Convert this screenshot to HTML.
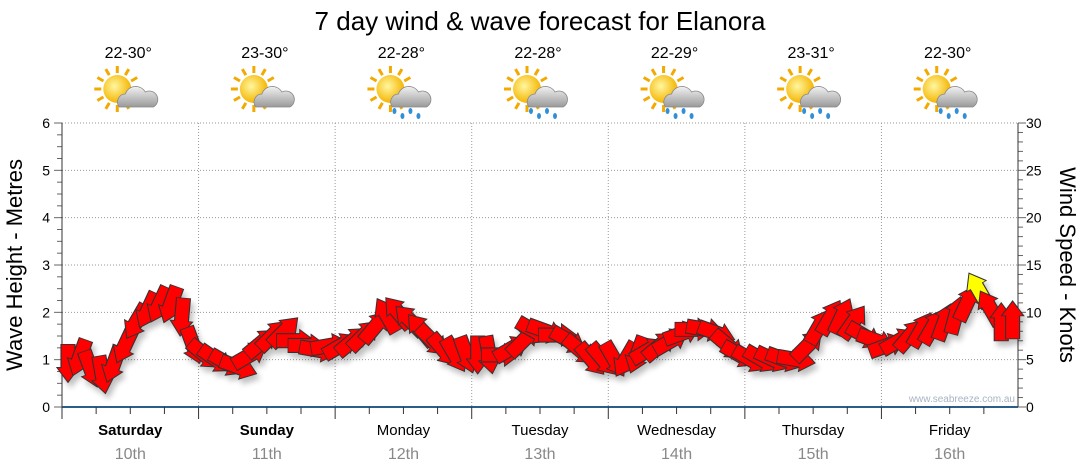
<!DOCTYPE html>
<html><head><meta charset="utf-8"><style>
body{margin:0;background:#fff;font-family:"Liberation Sans",sans-serif;}
svg{display:block}
</style></head><body>
<svg id="c" width="1080" height="475" viewBox="0 0 1080 475">
<defs>
<filter id="sh" x="-50%" y="-50%" width="200%" height="200%"><feGaussianBlur in="SourceAlpha" stdDeviation="3"/><feOffset dx="3" dy="5"/><feComponentTransfer><feFuncA type="linear" slope="0.25"/></feComponentTransfer><feMerge><feMergeNode/><feMergeNode in="SourceGraphic"/></feMerge></filter>
<radialGradient id="sun" cx="0.4" cy="0.4" r="0.6"><stop offset="0" stop-color="#fff7a0"/><stop offset="1" stop-color="#f5b400"/></radialGradient>
<linearGradient id="cl" x1="0" y1="0" x2="0" y2="1"><stop offset="0" stop-color="#f2f2f2"/><stop offset="1" stop-color="#9a9a9a"/></linearGradient>
</defs>
<text x="540" y="30" text-anchor="middle" font-size="26" fill="#000">7 day wind &amp; wave forecast for Elanora</text>
<g id="grid"></g><g id="axes"></g><g id="wx"></g>
<text x="1015" y="402" text-anchor="end" font-size="10" fill="#a8b4c4">www.seabreeze.com.au</text>
<g id="arrows" filter="url(#sh)"></g>
<text transform="translate(22,265) rotate(-90)" text-anchor="middle" font-size="22" fill="#000">Wave Height - Metres</text>
<text transform="translate(1060,265) rotate(90)" text-anchor="middle" font-size="22" fill="#000">Wind Speed - Knots</text>
</svg>
<script>
const days=["Saturday","Sunday","Monday","Tuesday","Wednesday","Thursday","Friday"];
const dates=["10th","11th","12th","13th","14th","15th","16th"];
const temps=["22-30°","23-30°","22-28°","22-28°","22-29°","23-31°","22-30°"];
const rain=[false,false,true,true,true,true,true];
const waveTicks=[0,1,2,3,4,5,6];
const windTicks=[0,5,10,15,20,25,30];
const windSpeed=[4.6,5.2,4.0,3.4,4.5,6.5,9.0,10.2,10.8,10.8,9.5,6.5,
5.5,5.0,4.6,4.2,5.5,6.8,7.6,8.0,7.0,6.5,6.0,6.5,
6.5,7.0,7.6,8.5,9.7,10.0,9.2,8.2,7.0,6.0,5.5,5.5,
5.5,5.5,5.5,6.2,7.0,8.0,8.0,7.6,7.0,6.0,5.0,5.0,
5.0,5.0,5.5,6.0,6.5,7.0,7.8,8.2,8.2,7.8,6.5,5.5,
5.0,5.0,5.0,5.0,5.0,6.5,8.5,9.5,9.6,9.0,7.5,7.0,
6.5,7.0,7.6,8.2,8.5,9.0,9.7,11.0,12.4,10.5,9.0,9.2];
const windDir=[180,200,160,170,200,205,210,205,205,200,185,160,
130,125,120,110,60,50,45,45,90,90,100,80,
60,50,45,40,330,320,315,320,135,140,150,160,
180,170,90,60,45,120,110,90,120,130,140,140,
150,210,200,60,50,60,70,90,100,110,130,120,
120,120,115,110,100,45,30,30,25,35,120,110,
70,60,40,30,30,20,15,25,330,330,0,0];
const NS="http://www.w3.org/2000/svg";
const X0=62,X1=1018,Y0=407,Y1=123,DW=(X1-X0)/7;
const yW=v=>Y0-(v/6)*(Y0-Y1);
const yK=v=>Y0-(v/30)*(Y0-Y1);
const xT=i=>X0+i*DW/12+6;
function mk(tag,attrs,parent){const e=document.createElementNS(NS,tag);for(const k in attrs)e.setAttribute(k,attrs[k]);parent.appendChild(e);return e;}
const G=document.getElementById('grid'),A=document.getElementById('axes'),W=document.getElementById('wx'),R=document.getElementById('arrows');
waveTicks.forEach(v=>{
 if(v>0){const l=mk('line',{x1:X0,x2:X1,y1:yW(v),y2:yW(v),stroke:'#999','stroke-dasharray':'1,2'},G);
 
 }
 const t=mk('text',{x:50,y:yW(v)+5,'text-anchor':'end','font-size':14,fill:'#000'},A);t.textContent=v;
 
 
});
for(let v=0;v<=6;v+=0.25){mk('line',{x1:X0-(v%1===0?8:5),x2:X0,y1:yW(v),y2:yW(v),stroke:'#666'},A);}
windTicks.forEach(v=>{
 const t=mk('text',{x:1026,y:yK(v)+5,'font-size':14,fill:'#000'},A);t.textContent=v;
 
 
});
for(let v=0;v<=30;v+=1){mk('line',{x1:X1,x2:X1+(v%5===0?8:5),y1:yK(v),y2:yK(v),stroke:'#666'},A);}
mk('line',{x1:X0,x2:X0,y1:Y1,y2:Y0,stroke:'#333'},A);
mk('line',{x1:X1,x2:X1,y1:Y1,y2:Y0,stroke:'#333'},A);
mk('line',{x1:X0,x2:X1,y1:Y0,y2:Y0,stroke:'#2a5d8a','stroke-width':2},A);
for(let i=0;i<7;i++){
 const x=X0+i*DW;
 if(i>0){const l=mk('line',{x1:x,x2:x,y1:Y1,y2:Y0,stroke:'#999','stroke-dasharray':'1,2'},G);
 
 }
 for(let q=0;q<4;q++)mk('line',{x1:x+q*DW/4,x2:x+q*DW/4,y1:Y0,y2:Y0+(q===0?12:7),stroke:'#333'},A);
 const cx=x+DW/2;
 const d=mk('text',{x:cx,y:435,'text-anchor':'middle','font-size':15,'font-weight':i<2?'bold':'normal',fill:'#000'},A);d.textContent=days[i];
 
 
 const dt=mk('text',{x:cx,y:459,'text-anchor':'middle','font-size':16,fill:'#888'},A);dt.textContent=dates[i];
 
 
 const tp=mk('text',{x:cx-2,y:58,'text-anchor':'middle','font-size':16,fill:'#000'},W);tp.textContent=temps[i];
 
 
 const ic=mk('g',{transform:`translate(${cx-3},95)`},W);
 
 
 for(let r=0;r<12;r++){const a=r*Math.PI/6;mk('line',{x1:-10+Math.cos(a)*16,y1:-6+Math.sin(a)*16,x2:-10+Math.cos(a)*23,y2:-6+Math.sin(a)*23,stroke:'#f2a900','stroke-width':3},ic);}
 mk('circle',{cx:-10,cy:-6,r:14,fill:'url(#sun)'},ic);
 mk('path',{d:'M-8,12 a8,8 0 0,1 6,-13 a11,11 0 0,1 20,-2 a8,8 0 0,1 8,15 z',fill:'url(#cl)',stroke:'#888','stroke-width':0.8},ic);
 if(rain[i]){[-4,4,12,20].forEach((dx,k)=>{mk('ellipse',{cx:dx-2,cy:16+(k%2)*5,rx:2,ry:3,fill:'#2f8fd8'},ic);});}
}
windSpeed.forEach((s,i)=>{
 const p=mk('path',{d:'M0,-19 L8,-4 L5,-4 L5,19 L-5,19 L-5,-4 L-8,-4 Z',transform:`translate(${xT(i)},${yK(s)}) rotate(${windDir[i]}) scale(1.4,1)`,fill:s>=12?'#ffff00':'#ff0000',stroke:'#333','stroke-width':0.8},R);
 
 
});
</script>
</body></html>
